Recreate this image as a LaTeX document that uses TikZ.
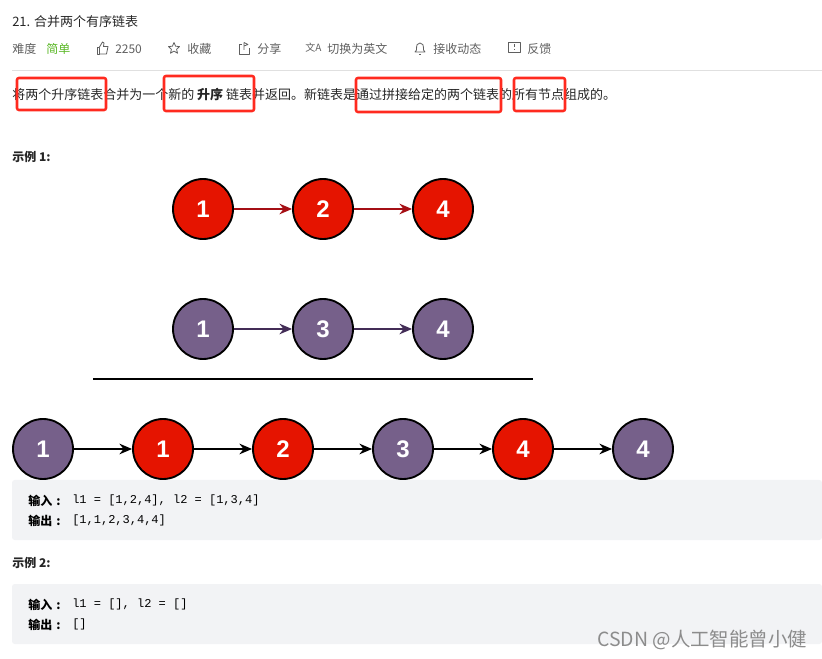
\documentclass[tikz,border=0pt]{standalone}
\usepackage{fontspec}
\setmainfont{Noto Sans CJK SC}
\setmonofont{Liberation Mono}
\newfontfamily\digitfont{Liberation Sans}
\usetikzlibrary{arrows.meta}
\definecolor{nodered}{HTML}{E51400}
\definecolor{nodepurple}{HTML}{76608A}
\definecolor{arrowred}{HTML}{A50F15}
\definecolor{arrowpurple}{HTML}{432D57}
\definecolor{codebg}{HTML}{F2F3F5}
\definecolor{metagray}{HTML}{5F5F5F}
\definecolor{easygreen}{HTML}{5AB726}
\definecolor{markred}{HTML}{FF2A1F}
\tikzset{
  listnode/.style={circle, draw=black, line width=1.4pt, minimum size=60*0.75pt, inner sep=0pt,
    text=white, font=\digitfont\bfseries\fontsize{18}{18}\selectfont},
  rednode/.style={listnode, fill=nodered},
  purplenode/.style={listnode, fill=nodepurple},
  txt/.style={anchor=west, inner sep=0pt, text=black!85, font=\fontsize{9.75}{12}\selectfont},
  meta/.style={txt, text=metagray, font=\fontsize{9}{12}\selectfont},
  codeline/.style={txt, text=black, font=\fontsize{9}{12}\selectfont},
  icon/.style={draw=metagray, line width=0.6pt, line join=round},
  markbox/.style={draw=markred, line width=1.9pt, rounded corners=1.5pt},
  codebox/.style={fill=codebg, rounded corners=2pt},
  link/.style={->, line width=1.3pt}
}
\begin{document}
\begin{tikzpicture}[x=0.75pt, y=-0.75pt, >={Stealth[length=9.5pt, width=8pt]}]
\useasboundingbox (0,0) rectangle (822,659);

% code panels
\fill[codebox] (12,480) rectangle (822,540);
\fill[codebox] (12,584) rectangle (822,644);

% header
\node[txt] (title) at (12,22) {21. 合并两个有序链表};
\node[meta] (level) at (12,49) {难度};
\node[meta, text=easygreen] (easy) at (46,49) {简单};
\node[meta] (likes) at (115,49) {2250};
\node[meta] (fav) at (187,49) {收藏};
\node[meta] (share) at (257,49) {分享};
\node[meta] (english) at (327,49) {切换为英文};
\node[meta] (notify) at (433,49) {接收动态};
\node[meta] (feedback) at (527,49) {反馈};

% toolbar icons
\draw[icon] (97,47) -- (99.5,47) -- (99.5,54) -- (97,54) -- cycle;
\draw[icon] (99.5,47) -- (102.5,42) -- (104,43) -- (103.5,46.5) -- (108,46.5) -- (106.5,54) -- (99.5,54);
\draw[icon] (174,42.5) -- (175.6,46.2) -- (179.6,46.6) -- (176.6,49.2) -- (177.5,53.2) -- (174,51.1) -- (170.5,53.2) -- (171.4,49.2) -- (168.4,46.6) -- (172.4,46.2) -- cycle;
\draw[icon] (242,44) -- (239,44) -- (239,54) -- (249,54) -- (249,48);
\draw[icon] (244,42.5) -- (244,50) (244,42.5) -- (248,44.5) -- (244,46);
\node[inner sep=0pt, text=metagray, font=\fontsize{7.5}{8}\selectfont] (trans) at (313.5,48) {文A};
\draw[icon] (420,43) .. controls (423,43) and (423.5,45) .. (423.5,50) -- (425,52) -- (415,52) -- (416.5,50) .. controls (416.5,45) and (417,43) .. (420,43);
\draw[icon] (419,54) -- (421,54);
\draw[icon] (508.5,42.5) rectangle (520,52);
\draw[icon] (514.2,44.5) -- (514.2,47.5) (514.2,49) -- (514.2,50);

\coordinate (ruleleft) at (12,71);
\coordinate (ruleright) at (822,71);
\draw[black!12, line width=0.75pt] (ruleleft) -- (ruleright);

% statement
\node[txt] (statement) at (12,95) {将两个升序链表合并为一个新的 \textbf{升序} 链表并返回。新链表是通过拼接给定的两个链表的所有节点组成的。};
\draw[markbox] (17,78) rectangle (106,110);
\draw[markbox] (164,76) rectangle (254,111);
\draw[markbox] (356,78) rectangle (501,112);
\draw[markbox] (514,78) rectangle (565,111);

\node[txt, font=\bfseries\fontsize{9}{12}\selectfont] (example1) at (12,156.5) {示例 1:};

% first list
\node[rednode] (a1) at (203,209) {1};
\node[rednode] (a2) at (323,209) {2};
\node[rednode] (a3) at (443,209) {4};

% second list
\node[purplenode] (b1) at (203,329) {1};
\node[purplenode] (b2) at (323,329) {3};
\node[purplenode] (b3) at (443,329) {4};

\draw[link, arrowred] (a1) -- (a2);
\draw[link, arrowred] (a2) -- (a3);
\draw[link, arrowpurple] (b1) -- (b2);
\draw[link, arrowpurple] (b2) -- (b3);

% divider
\coordinate (divleft) at (93,379.5);
\coordinate (divright) at (533,379.5);
\draw[black, line width=1.5pt] (divleft) -- (divright);

% merged list
\node[purplenode] (c1) at (43,449) {1};
\node[rednode] (c2) at (163,449) {1};
\node[rednode] (c3) at (283,449) {2};
\node[purplenode] (c4) at (403,449) {3};
\node[rednode] (c5) at (523,449) {4};
\node[purplenode] (c6) at (643,449) {4};

\draw[link, black] (c1) -- (c2);
\draw[link, black] (c2) -- (c3);
\draw[link, black] (c3) -- (c4);
\draw[link, black] (c4) -- (c5);
\draw[link, black] (c5) -- (c6);

% example text
\node[codeline] (in1) at (28,500.5) {\textbf{输入\,\,:}};
\node[codeline] (in1v) at (72,500.5) {\ttfamily l1 = [1,2,4], l2 = [1,3,4]};
\node[codeline] (out1) at (28,520.5) {\textbf{输出\,\,:}};
\node[codeline] (out1v) at (72,520.5) {\ttfamily [1,1,2,3,4,4]};

\node[txt, font=\bfseries\fontsize{9}{12}\selectfont] (example2) at (12,562.5) {示例 2:};

\node[codeline] (in2) at (28,604.5) {\textbf{输入\,\,:}};
\node[codeline] (in2v) at (72,604.5) {\ttfamily l1 = [], l2 = []};
\node[codeline] (out2) at (28,624.5) {\textbf{输出\,\,:}};
\node[codeline] (out2v) at (72,624.5) {\ttfamily []};

% watermark
\node[txt, text=black!45, font=\fontsize{14.6}{16}\selectfont] (watermark) at (597,640) {CSDN @人工智能曾小健};
\end{tikzpicture}
\end{document}
